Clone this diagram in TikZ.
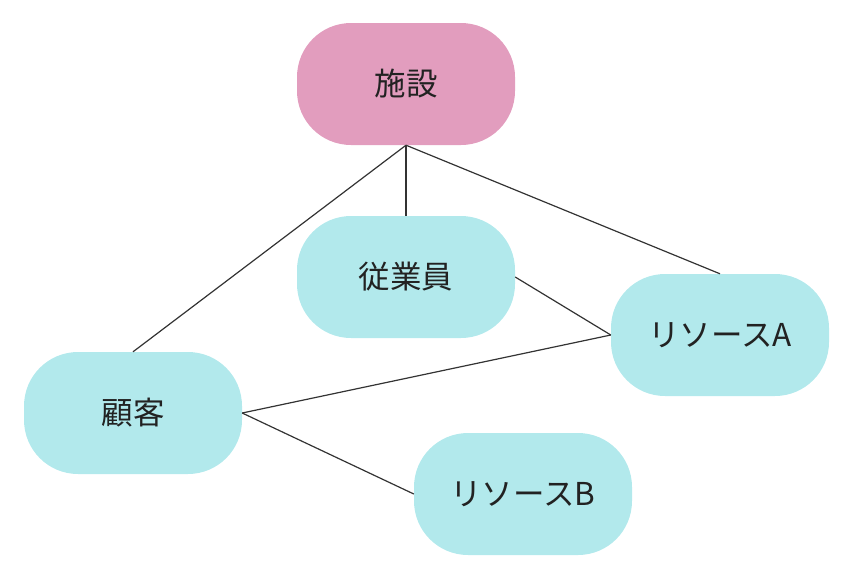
\documentclass[tikz,border=0pt]{standalone}
\usepackage{fontspec}
\setmainfont{Noto Sans CJK JP}
\definecolor{pinkfill}{HTML}{E29DBE}
\definecolor{cyanfill}{HTML}{B2E9EC}
\definecolor{txt}{HTML}{222222}
\definecolor{edge}{HTML}{333333}
\begin{document}
\begin{tikzpicture}[x=1pt,y=-1pt,
  box/.style={rounded corners=54pt, minimum width=218pt, minimum height=122pt,
    inner sep=0pt, text=txt, font=\fontsize{31.5pt}{36pt}\selectfont},
  pinkbox/.style={box, fill=pinkfill},
  cyanbox/.style={box, fill=cyanfill},
  link/.style={draw=edge, line width=1.2pt}]
\useasboundingbox (0,0) rectangle (858,576);
\node[pinkbox] (shisetsu) at (406,84) {施設};
\node[cyanbox] (jugyoin) at (406,277) {従業員};
\node[cyanbox] (resA) at (720,335) {リソースA};
\node[cyanbox] (kokyaku) at (133,413) {顧客};
\node[cyanbox] (resB) at (523,494) {リソースB};
\draw[link] (shisetsu.south) -- (kokyaku.north);
\draw[link] (shisetsu.south) -- (jugyoin.north);
\draw[link] (shisetsu.south) -- (resA.north);
\draw[link] (jugyoin.east) -- (resA.west);
\draw[link] (kokyaku.east) -- (resA.west);
\draw[link] (kokyaku.east) -- (resB.west);
\end{tikzpicture}
\end{document}
